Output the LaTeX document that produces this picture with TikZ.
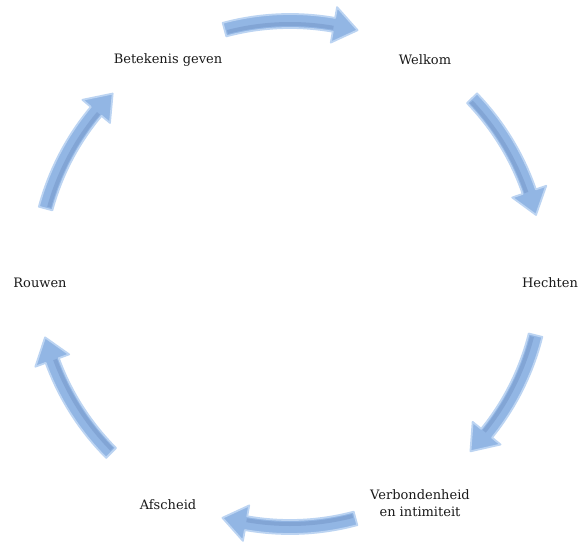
\documentclass[tikz,border=0pt]{standalone}
\usepackage{fontspec}
\setmainfont{DejaVu Serif}
\usepackage{tikz}
\usepackage{xcolor}
\definecolor{arrowfill}{RGB}{146,182,228}
\definecolor{arrowedge}{RGB}{188,212,242}
\definecolor{arrowdark}{RGB}{124,158,208}
\tikzstyle{label} = [text centered, align=center, font=\fontsize{13}{17}\selectfont, text=black!90, inner sep=0pt]
\tikzstyle{cyclearrow} = [fill=arrowfill, draw=arrowedge, line width=1.8pt, line join=round]
\tikzstyle{stripe} = [draw=arrowdark, line width=4pt, opacity=0.7]
% curved block arrow around the centre, #1 = middle angle
\newcommand{\cyclearrow}[1]{%
  \filldraw[cyclearrow] ($(c)+({#1+15}:260pt)$) arc[start angle={#1+15}, end angle={#1-10}, radius=260pt]
    -- ($(c)+({#1-10}:271pt)$) -- ($(c)+({#1-15.5}:253pt)$) -- ($(c)+({#1-10}:235pt)$)
    -- ($(c)+({#1-10}:246pt)$) arc[start angle={#1-10}, end angle={#1+15}, radius=246pt] -- cycle;
  \draw[stripe] ($(c)+({#1+14.5}:250pt)$) arc[start angle={#1+14.5}, end angle={#1-10}, radius=250pt];
}
\usetikzlibrary{calc}

\begin{document}
\begin{tikzpicture}
        \useasboundingbox (-290pt,-278pt) rectangle (290pt,274pt);
        \coordinate (c) at (0,0);

        % Text Labels
        \node[label] (welkom) at (135pt,214pt) {Welkom};
        \node[label] (hechten) at (260pt,-9pt) {Hechten};
        \node[label] (verbonden) at (130pt,-229pt) {Verbondenheid\\en intimiteit};
        \node[label] (afscheid) at (-122pt,-231pt) {Afscheid};
        \node[label] (rouwen) at (-250pt,-9pt) {Rouwen};
        \node[label] (betekenis) at (-122pt,214pt) {Betekenis geven};

        % Arrows
        \cyclearrow{90}
        \cyclearrow{29}
        \cyclearrow{-29}
        \cyclearrow{-90}
        \cyclearrow{-150}
        \cyclearrow{150}

    \end{tikzpicture}
\end{document}
